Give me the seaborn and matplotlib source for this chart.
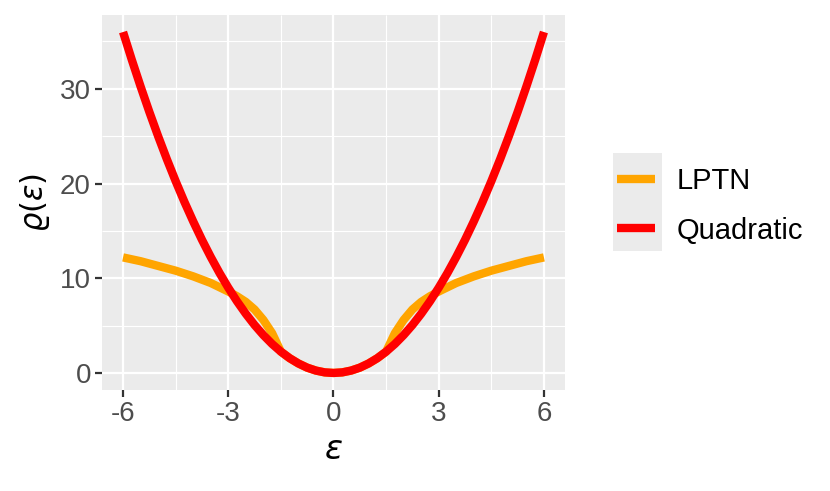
import numpy as np
import pandas as pd
import matplotlib
matplotlib.use("Agg")
import matplotlib.pyplot as plt
from matplotlib.patches import Rectangle
import seaborn as sns

# values
eps = [-6, -5.75, -5.5, -5.25, -5, -4.75, -4.5, -4.25, -4, -3.75, -3.5, -3.25,
       -3, -2.75, -2.5, -2.25, -2, -1.75, -1.5, -1.25, -1, -0.75, -0.5, -0.25,
       0, 0.25, 0.5, 0.75, 1, 1.25, 1.5, 1.75, 2, 2.25, 2.5, 2.75,
       3, 3.25, 3.5, 3.75, 4, 4.25, 4.5, 4.75, 5, 5.25, 5.5, 5.75, 6]
quadratic = [36, 33.06, 30.25, 27.56, 25, 22.56, 20.25, 18.06, 16, 14.06, 12.25, 10.56,
             9, 7.56, 6.25, 5.06, 4, 3.06, 2.25, 1.56, 1, 0.56, 0.25, 0.06,
             0, 0.06, 0.25, 0.56, 1, 1.56, 2.25, 3.06, 4, 5.06, 6.25, 7.56,
             9, 10.56, 12.25, 14.06, 16, 18.06, 20.25, 22.56, 25, 27.56, 30.25, 33.06, 36]
lptn = [12.2, 12.0, 11.8, 11.55, 11.3, 11.05, 10.8, 10.5, 10.2, 9.85, 9.5, 9.05,
        8.6, 8.1, 7.5, 6.7, 5.6, 4.2, 2.25, 1.56, 1, 0.56, 0.25, 0.06,
        0, 0.06, 0.25, 0.56, 1, 1.56, 2.25, 4.2, 5.6, 6.7, 7.5, 8.1,
        8.6, 9.05, 9.5, 9.85, 10.2, 10.5, 10.8, 11.05, 11.3, 11.55, 11.8, 12.0, 12.2]
series_names = ["LPTN", "Quadratic"]
colors = {"LPTN": "#FFA500", "Quadratic": "#FF0000"}
x_ticks = [-6, -3, 0, 3, 6]
y_ticks = [0, 10, 20, 30]

df = pd.concat([
    pd.DataFrame({"eps": eps, "rho": lptn, "type": "LPTN"}),
    pd.DataFrame({"eps": eps, "rho": quadratic, "type": "Quadratic"}),
])

sns.set_theme(style="darkgrid")
plt.rcParams["font.family"] = ["Liberation Sans", "DejaVu Sans"]
plt.rcParams["mathtext.fontset"] = "dejavusans"
plt.rcParams["lines.solid_capstyle"] = "butt"

fig = plt.figure(figsize=(8.3, 4.91), dpi=100)
ax = fig.add_axes([0.1229, 0.2057, 0.5578, 0.7638])
ax.set_facecolor("#EBEBEB")

sns.lineplot(data=df, x="eps", y="rho", hue="type", hue_order=series_names,
             palette=colors, linewidth=6, ax=ax, sort=False)

ax.set_xlim(-6.6, 6.6)
ax.set_ylim(-1.8, 37.8)
ax.set_xticks(x_ticks)
ax.set_xticklabels([str(t) for t in x_ticks])
ax.set_yticks(y_ticks)
ax.set_xticks([-4.5, -1.5, 1.5, 4.5], minor=True)
ax.set_yticks([5, 15, 25, 35], minor=True)
ax.grid(which="major", color="white", linewidth=1.6)
ax.grid(which="minor", color="white", linewidth=0.8)
for s in ax.spines.values():
    s.set_visible(False)
ax.tick_params(which="major", length=5, width=1.6, color="#333333",
               labelsize=20, labelcolor="#4D4D4D", pad=3,
               bottom=True, left=True)
ax.tick_params(which="minor", length=0)

ax.set_xlabel(r"$\varepsilon$", fontsize=24, color="black", labelpad=6)
ax.set_ylabel(r"$\varrho(\varepsilon)$", fontsize=22, color="black", labelpad=6)

# legend with grey key background like ggplot
key_bg = Rectangle((0.7386, 0.4888), 0.059, 0.1996, transform=fig.transFigure,
                   facecolor="#EBEBEB", edgecolor="none", zorder=1, clip_on=False)
ax.add_artist(key_bg)
handles, labels = ax.get_legend_handles_labels()
leg = ax.legend(handles, labels, loc="center left", bbox_to_anchor=(0.743, 0.581),
                bbox_transform=fig.transFigure, frameon=False, fontsize=21,
                handlelength=1.3, handletextpad=0.75, labelspacing=0.75,
                borderpad=0, borderaxespad=0, labelcolor="black")
leg.set_zorder(5)
for line in leg.get_lines():
    line.set_linewidth(6)
    line.set_solid_capstyle("butt")

fig.savefig("out.png", dpi=100)
